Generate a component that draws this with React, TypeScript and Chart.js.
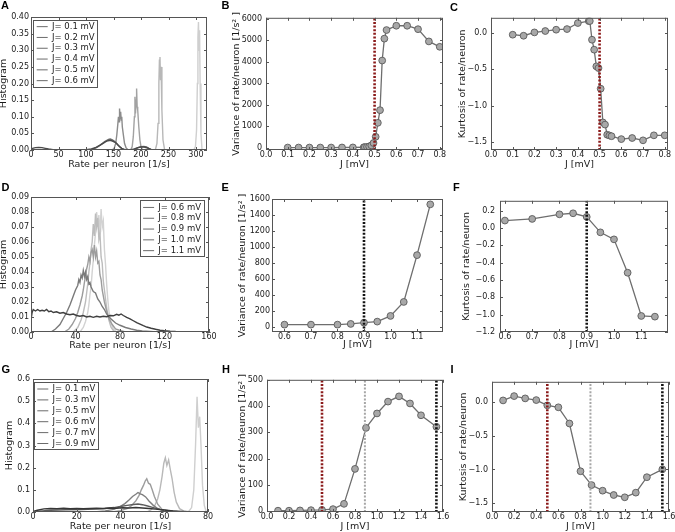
import React, { useEffect, useRef } from "react";
import { Chart, registerables } from "chart.js";

Chart.register(...registerables);

const FONT = "'DejaVu Sans', 'Liberation Sans', sans-serif";
Chart.defaults.font.family = FONT;

// ================= DATA =================
// ---- Panel A: rate histograms, J = 0.1 ... 0.6 mV ----
const A_LABELS = ["J= 0.1 mV", "J= 0.2 mV", "J= 0.3 mV", "J= 0.4 mV", "J= 0.5 mV", "J= 0.6 mV"];
const A_RATE_1 = [0, 296, 299, 301, 302.5, 303.5, 304.5, 305.5, 306.5, 307.5, 309, 311, 320];
const A_HIST_1 = [0, 0, 0.01, 0.06, 0.2, 0.34, 0.385, 0.3, 0.36, 0.2, 0.05, 0, 0];
const A_RATE_2 = [0, 226, 229, 231, 232.5, 233.5, 234.5, 235.5, 236.5, 238, 240, 243, 320];
const A_HIST_2 = [0, 0, 0.02, 0.08, 0.2, 0.27, 0.28, 0.21, 0.25, 0.12, 0.03, 0, 0];
const A_RATE_3 = [0, 181, 184, 186, 188, 189, 190, 191, 192, 193, 194, 196, 198, 200, 203, 320];
const A_HIST_3 = [0, 0, 0.01, 0.04, 0.1, 0.16, 0.11, 0.15, 0.185, 0.13, 0.12, 0.07, 0.03, 0.01, 0, 0];
const A_RATE_4 = [0, 147, 151, 154, 156, 158, 159, 160, 161, 162, 163, 164, 165, 166, 168, 170, 173, 177, 320];
const A_HIST_4 = [0, 0, 0.004, 0.02, 0.045, 0.08, 0.1, 0.085, 0.125, 0.095, 0.115, 0.09, 0.1, 0.07, 0.045, 0.02, 0.006, 0, 0];
const A_RATE_5 = [0, 100, 108, 115, 120, 125, 130, 134, 138, 141, 144, 147, 150, 154, 158, 162, 166, 172, 185, 190, 195, 200, 205, 210, 214, 219, 225, 320];
const A_HIST_5 = [0, 0, 0.001, 0.004, 0.008, 0.014, 0.02, 0.025, 0.029, 0.032, 0.033, 0.031, 0.028, 0.023, 0.015, 0.008, 0.003, 0, 0, 0.003, 0.007, 0.01, 0.011, 0.009, 0.005, 0.001, 0, 0];
const A_RATE_6 = [0, 3, 8, 14, 20, 26, 32, 40, 50, 100, 110, 118, 125, 131, 136, 140, 144, 148, 152, 156, 160, 165, 170, 180, 188, 194, 200, 206, 212, 218, 226, 320];
const A_HIST_6 = [0.001, 0.005, 0.007, 0.008, 0.007, 0.005, 0.003, 0.001, 0, 0.001, 0.003, 0.008, 0.014, 0.02, 0.025, 0.028, 0.029, 0.027, 0.024, 0.019, 0.012, 0.005, 0.001, 0, 0.003, 0.007, 0.009, 0.009, 0.006, 0.002, 0, 0];

// ---- Panel B / C: variance & kurtosis vs J ----
const BC_J = [0.1, 0.15, 0.2, 0.25, 0.3, 0.35, 0.4, 0.45, 0.455, 0.465, 0.475, 0.485, 0.495, 0.505, 0.515, 0.525, 0.535, 0.545, 0.555, 0.6, 0.65, 0.7, 0.75, 0.8];
const B_VAR = [10, 10, 10, 10, 10, 12, 15, 22, 28, 40, 60, 110, 220, 510, 1160, 1750, 4060, 5080, 5480, 5680, 5680, 5520, 4950, 4700];
const C_KURT = [-0.023, -0.037, 0.009, 0.028, 0.046, 0.055, 0.138, 0.165, 0.165, -0.092, -0.229, -0.459, -0.482, -0.766, -1.23, -1.26, -1.4, -1.41, -1.42, -1.46, -1.445, -1.477, -1.408, -1.408];
const BC_JCRIT = 0.5;

// ---- Panel D: rate histograms, J = 0.6 ... 1.1 mV ----
const D_LABELS = ["J= 0.6 mV", "J= 0.8 mV", "J= 0.9 mV", "J= 1.0 mV", "J= 1.1 mV"];
const D_RATE_1 = [0, 44, 47, 49, 51, 52, 53, 54, 55, 56, 57, 58, 59, 60, 61, 62, 63, 64, 65, 66, 67, 68, 69, 70, 72, 74, 77, 160];
const D_HIST_1 = [0, 0, 0.003, 0.007, 0.013, 0.018, 0.025, 0.03, 0.04, 0.048, 0.058, 0.066, 0.08, 0.07, 0.078, 0.065, 0.082, 0.07, 0.074, 0.055, 0.045, 0.032, 0.022, 0.014, 0.006, 0.002, 0, 0];
const D_RATE_2 = [0, 38, 42, 45, 47, 49, 50, 51, 52, 53, 54, 55, 56, 57, 58, 59, 60, 61, 62, 63, 64, 65, 66, 68, 70, 72, 75, 160];
const D_HIST_2 = [0, 0, 0.003, 0.008, 0.013, 0.02, 0.026, 0.032, 0.04, 0.046, 0.055, 0.06, 0.072, 0.064, 0.079, 0.07, 0.076, 0.062, 0.066, 0.05, 0.046, 0.034, 0.028, 0.016, 0.008, 0.003, 0, 0];
const D_RATE_3 = [0, 30, 34, 37, 40, 42, 44, 46, 47, 48, 49, 50, 51, 52, 53, 54, 55, 56, 57, 58, 59, 60, 61, 62, 63, 64, 66, 68, 70, 73, 76, 80, 85, 160];
const D_HIST_3 = [0, 0, 0.002, 0.005, 0.009, 0.013, 0.018, 0.024, 0.028, 0.033, 0.037, 0.042, 0.045, 0.05, 0.047, 0.053, 0.055, 0.05, 0.058, 0.05, 0.054, 0.046, 0.047, 0.038, 0.035, 0.028, 0.02, 0.014, 0.009, 0.005, 0.002, 0.001, 0, 0];
const D_RATE_4 = [0, 18, 22, 26, 29, 32, 35, 38, 40, 42, 43, 44, 45, 46, 47, 48, 49, 50, 51, 52, 53, 54, 56, 58, 60, 62, 64, 66, 68, 70, 73, 76, 80, 85, 90, 95, 100, 110, 160];
const D_HIST_4 = [0, 0, 0.002, 0.005, 0.009, 0.013, 0.018, 0.024, 0.028, 0.031, 0.035, 0.033, 0.038, 0.036, 0.041, 0.037, 0.04, 0.035, 0.037, 0.032, 0.033, 0.03, 0.027, 0.026, 0.022, 0.02, 0.017, 0.015, 0.012, 0.01, 0.008, 0.006, 0.0045, 0.003, 0.002, 0.0012, 0.0007, 0.0002, 0];
const D_RATE_5 = [0, 1, 2, 4, 6, 8, 10, 12, 14, 16, 18, 20, 23, 26, 29, 32, 35, 38, 41, 44, 47, 50, 53, 56, 59, 62, 65, 68, 71, 74, 77, 79, 81, 83, 86, 89, 92, 95, 98, 101, 104, 108, 112, 116, 120, 125, 130, 140, 150, 160];
const D_HIST_5 = [0.008, 0.013, 0.015, 0.014, 0.015, 0.014, 0.0145, 0.014, 0.015, 0.0135, 0.014, 0.013, 0.0135, 0.0125, 0.013, 0.012, 0.0115, 0.012, 0.011, 0.0105, 0.011, 0.01, 0.0105, 0.0098, 0.0105, 0.01, 0.0105, 0.0102, 0.011, 0.0108, 0.0118, 0.0112, 0.012, 0.011, 0.0098, 0.0088, 0.0075, 0.0062, 0.0052, 0.0042, 0.0033, 0.0025, 0.0018, 0.0012, 0.0008, 0.0005, 0.0003, 0.0001, 0, 0];

// ---- Panel E / F: variance & kurtosis vs J ----
const EF_J = [0.6, 0.7, 0.8, 0.85, 0.9, 0.95, 1.0, 1.05, 1.1, 1.15];
const E_VAR = [29, 29, 29, 38, 54, 67, 138, 313, 898, 1533];
const F_KURT = [0.086, 0.105, 0.158, 0.17, 0.128, -0.05, -0.131, -0.516, -1.015, -1.023];
const EF_JCRIT = 0.9;

// ---- Panel G: rate histograms ----
const G_LABELS = ["J= 0.1 mV", "J= 0.3 mV", "J= 0.5 mV", "J= 0.6 mV", "J= 0.7 mV", "J= 0.9 mV"];
const G_RATE_1 = [0, 71, 72.5, 73.5, 74.3, 75, 75.6, 76.2, 76.8, 77.5, 78.3, 79.2, 80];
const G_HIST_1 = [0, 0, 0.02, 0.1, 0.3, 0.52, 0.38, 0.43, 0.3, 0.12, 0.03, 0, 0];
const G_RATE_2 = [0, 52, 54, 55.5, 57, 58, 59, 59.8, 60.5, 61.2, 62, 62.8, 63.6, 64.5, 65.5, 67, 69, 71, 80];
const G_HIST_2 = [0, 0, 0.01, 0.025, 0.06, 0.1, 0.16, 0.22, 0.245, 0.21, 0.235, 0.19, 0.15, 0.09, 0.045, 0.015, 0.004, 0, 0];
const G_RATE_3 = [0, 36, 40, 43, 45, 47, 48.5, 49.5, 50.5, 51.3, 52, 52.8, 53.6, 54.5, 55.5, 57, 59, 61, 64, 80];
const G_HIST_3 = [0, 0, 0.006, 0.015, 0.028, 0.05, 0.075, 0.1, 0.12, 0.14, 0.15, 0.13, 0.125, 0.1, 0.07, 0.035, 0.012, 0.004, 0, 0];
const G_RATE_4 = [0, 28, 33, 37, 40, 42, 44, 45.5, 47, 48, 49, 50, 51.5, 53, 55, 57, 59, 62, 66, 80];
const G_HIST_4 = [0, 0, 0.005, 0.012, 0.025, 0.038, 0.055, 0.07, 0.08, 0.088, 0.082, 0.078, 0.068, 0.05, 0.03, 0.016, 0.007, 0.002, 0, 0];
const G_RATE_5 = [0, 3, 8, 15, 22, 28, 33, 37, 40, 43, 46, 48, 50, 52, 55, 58, 62, 66, 70, 74, 80];
const G_HIST_5 = [0, 0.004, 0.008, 0.01, 0.011, 0.013, 0.016, 0.02, 0.025, 0.03, 0.034, 0.036, 0.033, 0.028, 0.02, 0.012, 0.006, 0.002, 0.001, 0, 0];
const G_RATE_6 = [0, 2, 5, 8, 11, 14, 17, 20, 23, 26, 29, 32, 35, 38, 41, 44, 47, 50, 53, 56, 60, 64, 68, 72, 76, 80];
const G_HIST_6 = [0.002, 0.008, 0.014, 0.016, 0.015, 0.017, 0.015, 0.016, 0.015, 0.016, 0.017, 0.016, 0.018, 0.017, 0.019, 0.018, 0.02, 0.018, 0.016, 0.013, 0.009, 0.005, 0.003, 0.001, 0.0005, 0];

// ---- Panel H / I: variance & kurtosis vs J ----
const HI_J = [0.1, 0.2, 0.3, 0.4, 0.5, 0.6, 0.7, 0.8, 0.9, 1.0, 1.1, 1.2, 1.3, 1.4, 1.54];
const H_VAR = [2, 2, 3, 4, 5, 8, 28, 161, 317, 372, 417, 437, 410, 365, 321];
const I_KURT = [0.024, 0.088, 0.054, 0.029, -0.049, -0.078, -0.318, -1.026, -1.231, -1.314, -1.378, -1.412, -1.343, -1.114, -0.997];
const HI_JCRIT = [0.5, 0.89, 1.54];

// ================= STYLE / LAYOUT =================
const MARKER_FILL = "#a8a8a8";
const MARKER_EDGE = "#5a5a5a";
const LINE_GRAY = "#6e6e6e";
const RED = "#8b1a1a";
const BLACK = "#111111";
const MIDGRAY = "#a6a6a6";
const TEXT = "#1a1a1a";
const TICK_SIZE = 8;
const TITLE_SIZE = 9.5;
const LEG_SIZE = 8.5;

type Series = { label: string; xs: number[]; ys: number[]; color: string };
type VLine = { x: number; color: string; width: number; dash: number[] };
type AxisCfg = { min: number; max: number; step: number; dec: number };
type LegendCfg = { side: "left" | "right"; dx: number; dy: number; gap: number };
type PanelCfg = {
  letter: string; lx: number; ly: number;
  l: number; t: number; r: number; b: number;
  yTitleDist: number; xTitleDist: number; yPad: number;
  x: AxisCfg; y: AxisCfg; xTitle: string; yTitle: string;
  kind: "hist" | "scatter"; series: Series[]; vlines: VLine[]; legend?: LegendCfg;
};

const RATE_TITLE = "Rate per neuron [1/s]";
const HIST_TITLE = "Histogram";
const J_TITLE = "J [mV]";
const VAR_TITLE = "Variance of rate/neuron [1/s\u00B2 ]";
const KURT_TITLE = "Kurtosis of rate/neuron";

const A_COLORS = ["#cfcfcf", "#b8b8b8", "#a2a2a2", "#8c8c8c", "#6a6a6a", "#4a4a4a"];
const D_COLORS = ["#d2d2d2", "#bcbcbc", "#9c9c9c", "#7a7a7a", "#3f3f3f"];
const G_COLORS = ["#cfcfcf", "#b9b9b9", "#9c9c9c", "#7f7f7f", "#5c5c5c", "#363636"];

const mk = (labels: string[], colors: string[], xs: number[][], ys: number[][]): Series[] =>
  labels.map((label, i) => ({ label, xs: xs[i], ys: ys[i], color: colors[i] }));

const dot = (x: number, color: string, width = 2.6): VLine => ({ x, color, width, dash: [2, 1.6] });

const PANELS: PanelCfg[] = [
  {
    letter: "A", lx: 1, ly: 0, l: 31, t: 17, r: 207, b: 150, yTitleDist: 26.8, xTitleDist: 14, yPad: 2,
    x: { min: 0, max: 320, step: 50, dec: 0 }, y: { min: 0, max: 0.4, step: 0.05, dec: 2 },
    xTitle: RATE_TITLE, yTitle: HIST_TITLE, kind: "hist",
    series: mk(A_LABELS, A_COLORS, [A_RATE_1, A_RATE_2, A_RATE_3, A_RATE_4, A_RATE_5, A_RATE_6], [A_HIST_1, A_HIST_2, A_HIST_3, A_HIST_4, A_HIST_5, A_HIST_6]),
    vlines: [], legend: { side: "left", dx: 5.7, dy: 5.4, gap: 2.3 },
  },
  {
    letter: "B", lx: 221.5, ly: -0.5, l: 266, t: 17, r: 443, b: 150, yTitleDist: 29, xTitleDist: 14.3, yPad: 4,
    x: { min: 0, max: 0.815, step: 0.1, dec: 1 }, y: { min: -105, max: 6050, step: 1000, dec: 0 },
    xTitle: J_TITLE, yTitle: VAR_TITLE, kind: "scatter",
    series: [{ label: "var", xs: BC_J, ys: B_VAR, color: LINE_GRAY }], vlines: [dot(BC_JCRIT, RED)],
  },
  {
    letter: "C", lx: 450, ly: 2, l: 491, t: 17, r: 668, b: 150, yTitleDist: 28.5, xTitleDist: 14.3, yPad: 4,
    x: { min: 0, max: 0.815, step: 0.1, dec: 1 }, y: { min: -1.61, max: 0.21, step: 0.5, dec: 1 },
    xTitle: J_TITLE, yTitle: KURT_TITLE, kind: "scatter",
    series: [{ label: "kurt", xs: BC_J, ys: C_KURT, color: LINE_GRAY }], vlines: [dot(BC_JCRIT, RED)],
  },
  {
    letter: "D", lx: 1.5, ly: 182, l: 31, t: 197, r: 209, b: 332, yTitleDist: 27, xTitleDist: 13, yPad: 2,
    x: { min: 0, max: 160, step: 40, dec: 0 }, y: { min: 0, max: 0.09, step: 0.01, dec: 2 },
    xTitle: RATE_TITLE, yTitle: HIST_TITLE, kind: "hist",
    series: mk(D_LABELS, D_COLORS, [D_RATE_1, D_RATE_2, D_RATE_3, D_RATE_4, D_RATE_5], [D_HIST_1, D_HIST_2, D_HIST_3, D_HIST_4, D_HIST_5]),
    vlines: [], legend: { side: "right", dx: 8, dy: 6.2, gap: 2.3 },
  },
  {
    letter: "E", lx: 221.5, ly: 182, l: 272, t: 199, r: 443, b: 332, yTitleDist: 29, xTitleDist: 12, yPad: 2,
    x: { min: 0.553, max: 1.198, step: 0.1, dec: 1 }, y: { min: -63, max: 1600, step: 200, dec: 0 },
    xTitle: J_TITLE, yTitle: VAR_TITLE, kind: "scatter",
    series: [{ label: "var", xs: EF_J, ys: E_VAR, color: LINE_GRAY }], vlines: [dot(EF_JCRIT, BLACK)],
  },
  {
    letter: "F", lx: 453, ly: 182, l: 500, t: 199, r: 668, b: 332, yTitleDist: 33.7, xTitleDist: 12, yPad: 5,
    x: { min: 0.582, max: 1.198, step: 0.1, dec: 1 }, y: { min: -1.2, max: 0.314, step: 0.2, dec: 1 },
    xTitle: J_TITLE, yTitle: KURT_TITLE, kind: "scatter",
    series: [{ label: "kurt", xs: EF_J, ys: F_KURT, color: LINE_GRAY }], vlines: [dot(EF_JCRIT, BLACK)],
  },
  {
    letter: "G", lx: 1.5, ly: 363.5, l: 33, t: 379, r: 208, b: 512, yTitleDist: 23, xTitleDist: 14.7, yPad: 3,
    x: { min: 0, max: 80, step: 20, dec: 0 }, y: { min: 0, max: 0.6, step: 0.1, dec: 1 },
    xTitle: RATE_TITLE, yTitle: HIST_TITLE, kind: "hist",
    series: mk(G_LABELS, G_COLORS, [G_RATE_1, G_RATE_2, G_RATE_3, G_RATE_4, G_RATE_5, G_RATE_6], [G_HIST_1, G_HIST_2, G_HIST_3, G_HIST_4, G_HIST_5, G_HIST_6]),
    vlines: [], legend: { side: "left", dx: 4.3, dy: 5.75, gap: 2.4 },
  },
  {
    letter: "H", lx: 222, ly: 363.5, l: 267, t: 379, r: 443, b: 512, yTitleDist: 24.5, xTitleDist: 14, yPad: 4,
    x: { min: 0, max: 1.6, step: 0.2, dec: 1 }, y: { min: -3, max: 500, step: 100, dec: 0 },
    xTitle: J_TITLE, yTitle: VAR_TITLE, kind: "scatter",
    series: [{ label: "var", xs: HI_J, ys: H_VAR, color: LINE_GRAY }],
    vlines: [dot(HI_JCRIT[0], RED), dot(HI_JCRIT[1], MIDGRAY, 2), dot(HI_JCRIT[2], BLACK)],
  },
  {
    letter: "I", lx: 450.5, ly: 363.5, l: 492, t: 381, r: 669, b: 512, yTitleDist: 28.5, xTitleDist: 14.7, yPad: 4,
    x: { min: 0, max: 1.6, step: 0.2, dec: 1 }, y: { min: -1.63, max: 0.3, step: 0.5, dec: 1 },
    xTitle: J_TITLE, yTitle: KURT_TITLE, kind: "scatter",
    series: [{ label: "kurt", xs: HI_J, ys: I_KURT, color: LINE_GRAY }],
    vlines: [dot(HI_JCRIT[0], RED), dot(HI_JCRIT[1], MIDGRAY, 2), dot(HI_JCRIT[2], BLACK)],
  },
];

const PAD_TOP = 8;
const PAD_RIGHT = 14;

function geom(p: PanelCfg) {
  const yW = Math.round(p.yTitleDist + (TITLE_SIZE * 1.2) / 2);
  const xH = Math.round(p.xTitleDist + (TITLE_SIZE * 1.2) / 2);
  return {
    yW, xH,
    left: p.l - yW, top: p.t - PAD_TOP,
    w: p.r - p.l + yW + PAD_RIGHT, h: p.b - p.t + PAD_TOP + xH,
  };
}

function fmt(v: number, dec: number) {
  const n = Math.abs(v) < 1e-9 ? 0 : v;
  return n.toFixed(dec).replace("-", "\u2212");
}

// tick values at whole multiples of the step inside [min, max]
function stepTicks(a: AxisCfg) {
  const out: { value: number }[] = [];
  const k0 = Math.ceil(a.min / a.step - 1e-9);
  for (let k = k0; k * a.step <= a.max + 1e-9; k++) out.push({ value: Number((k * a.step).toFixed(10)) });
  return out;
}

function makePlugin(p: PanelCfg) {
  return {
    id: "frameTicks" + p.letter,
    afterLayout(chart: any) {
      const lg = chart.legend;
      if (!p.legend || !lg || !lg.columnSizes || !lg.columnSizes.length) return;
      const ca = chart.chartArea;
      const pad = p.legend.gap;
      const colW = lg.columnSizes[0].width;
      const colH = lg.columnSizes[0].height;
      const itemsLeft = p.legend.side === "left" ? ca.left + p.legend.dx : ca.right - p.legend.dx - colW;
      const itemsTop = ca.top + p.legend.dy;
      lg.left = itemsLeft - pad;
      lg.top = itemsTop - pad;
      lg.width = colW + pad * 2;
      lg.height = colH + pad * 2;
      lg.right = lg.left + lg.width;
      lg.bottom = lg.top + lg.height;
    },
    afterDraw(chart: any) {
      const { ctx, chartArea: ca } = chart;
      ctx.save();
      ctx.strokeStyle = "#555555";
      ctx.lineWidth = 1;
      ctx.setLineDash([]);
      ctx.strokeRect(ca.left + 0.5, ca.top + 0.5, ca.right - ca.left - 1, ca.bottom - ca.top - 1);
      const xs = chart.scales.x;
      const ys = chart.scales.y;
      ctx.beginPath();
      xs.ticks.forEach((t: any) => {
        const px = Math.round(xs.getPixelForValue(t.value)) + 0.5;
        ctx.moveTo(px, ca.bottom); ctx.lineTo(px, ca.bottom - 3);
        ctx.moveTo(px, ca.top); ctx.lineTo(px, ca.top + 3);
      });
      ys.ticks.forEach((t: any) => {
        const py = Math.round(ys.getPixelForValue(t.value)) + 0.5;
        ctx.moveTo(ca.left, py); ctx.lineTo(ca.left + 3, py);
        ctx.moveTo(ca.right, py); ctx.lineTo(ca.right - 3, py);
      });
      ctx.stroke();
      const lg = chart.legend;
      if (p.legend && lg && lg.columnSizes && lg.columnSizes.length) {
        const pad = p.legend.gap;
        const itemsLeft = lg.left + pad;
        const itemsTop = lg.top + pad;
        const n = p.series.length;
        const inc = LEG_SIZE + pad;
        const firstC = itemsTop + LEG_SIZE / 2;
        const lastC = firstC + (n - 1) * inc;
        ctx.strokeStyle = "#555555";
        ctx.lineWidth = 1;
        ctx.strokeRect(Math.round(itemsLeft - 3.5) + 0.5, Math.round(firstC - 7) + 0.5, Math.round(lg.columnSizes[0].width + 6.5), Math.round(lastC - firstC + 12.5));
      }
      ctx.restore();
    },
  };
}

function buildConfig(p: PanelCfg, g: ReturnType<typeof geom>): any {
  const scatter = p.kind === "scatter";
  const datasets: any[] = p.series.map((s, i) => ({
    label: s.label,
    data: s.xs.map((x, k) => ({ x, y: s.ys[k] })),
    borderColor: s.color,
    backgroundColor: scatter ? MARKER_FILL : s.color,
    borderWidth: scatter ? 1.3 : 1.4,
    pointRadius: scatter ? 3.4 : 0,
    pointHoverRadius: scatter ? 3.4 : 0,
    pointBackgroundColor: MARKER_FILL,
    pointBorderColor: MARKER_EDGE,
    pointBorderWidth: 0.9,
    tension: 0,
    order: 100 - i,
  }));
  p.vlines.forEach((v) =>
    datasets.push({
      label: "",
      data: [{ x: v.x, y: p.y.min }, { x: v.x, y: p.y.max }],
      borderColor: v.color,
      backgroundColor: v.color,
      borderWidth: v.width,
      borderDash: v.dash,
      pointRadius: 0,
      pointHoverRadius: 0,
      order: 0,
    })
  );
  const tickFont = { family: FONT, size: TICK_SIZE };
  const titleFont = { family: FONT, size: TITLE_SIZE, lineHeight: 1.2 };
  return {
    type: "line",
    data: { datasets },
    options: {
      animation: false,
      responsive: false,
      maintainAspectRatio: false,
      devicePixelRatio: 1,
      events: [],
      layout: { padding: { left: 0, top: PAD_TOP, right: PAD_RIGHT, bottom: 0 } },
      scales: {
        x: {
          type: "linear",
          min: p.x.min,
          max: p.x.max,
          afterBuildTicks: (s: any) => { s.ticks = stepTicks(p.x); },
          afterFit: (s: any) => { s.height = g.xH; },
          grid: { display: false, drawTicks: false },
          border: { display: false },
          ticks: {
            autoSkip: false, maxRotation: 0, minRotation: 0,
            padding: 0.5, font: tickFont, color: TEXT,
            callback: (v: any) => fmt(Number(v), p.x.dec),
          },
          title: { display: true, text: p.xTitle, font: titleFont, color: TEXT, padding: 0 },
        },
        y: {
          type: "linear",
          min: p.y.min,
          max: p.y.max,
          afterBuildTicks: (s: any) => { s.ticks = stepTicks(p.y); },
          afterFit: (s: any) => { s.width = g.yW; },
          grid: { display: false, drawTicks: false },
          border: { display: false },
          ticks: {
            autoSkip: false,
            padding: p.yPad, font: tickFont, color: TEXT,
            callback: (v: any) => fmt(Number(v), p.y.dec),
          },
          title: { display: true, text: p.yTitle, font: titleFont, color: TEXT, padding: 0 },
        },
      },
      plugins: {
        tooltip: { enabled: false },
        legend: {
          display: !!p.legend,
          position: "chartArea",
          align: "start",
          labels: {
            usePointStyle: true,
            pointStyle: "line",
            pointStyleWidth: 11,
            boxHeight: LEG_SIZE,
            padding: p.legend ? p.legend.gap : 2,
            font: { family: FONT, size: LEG_SIZE },
            color: TEXT,
            sort: (a: any, b: any) => a.datasetIndex - b.datasetIndex,
          },
        },
      },
    },
    plugins: [makePlugin(p)],
  };
}

function Panel({ p }: { p: PanelCfg }) {
  const ref = useRef<HTMLCanvasElement>(null);
  const g = geom(p);
  useEffect(() => {
    if (!ref.current) return;
    const chart = new Chart(ref.current, buildConfig(p, g));
    return () => chart.destroy();
  }, []);
  return (
    <>
      <canvas
        ref={ref}
        width={g.w}
        height={g.h}
        style={{ position: "absolute", left: g.left, top: g.top, width: g.w, height: g.h }}
      />
      <div
        style={{
          position: "absolute", left: p.lx, top: p.ly,
          font: "bold 11px 'Liberation Sans', Arial, sans-serif", lineHeight: "11px", color: "#000",
        }}
      >
        {p.letter}
      </div>
    </>
  );
}

export default function App() {
  return (
    <div style={{ position: "absolute", left: 0, top: 0, width: 675, height: 532, background: "#fff", overflow: "hidden" }}>
      {PANELS.map((p) => (
        <Panel key={p.letter} p={p} />
      ))}
    </div>
  );
}
